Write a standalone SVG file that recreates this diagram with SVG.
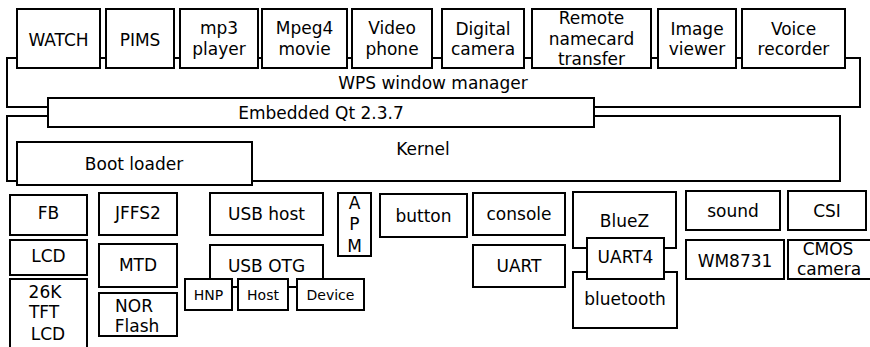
<svg xmlns="http://www.w3.org/2000/svg" width="870" height="347" viewBox="0 0 870 347">
<style>
rect{fill:#fff;stroke:#000;stroke-width:2}
.c line{stroke:#000;stroke-width:2}
text{font-family:"DejaVu Sans","Liberation Sans",sans-serif;font-size:17px;text-anchor:middle;fill:#000}
.s{font-size:14px}
</style>
<rect x="0" y="0" width="870" height="347" style="stroke:none"/>
<g id="wps"><rect x="7" y="58" width="853" height="49"/><text x="433" y="89">WPS window manager</text></g>
<g id="kernel"><rect x="7" y="116" width="833" height="65"/><text x="423" y="155">Kernel</text></g>
<g id="qt"><rect x="48" y="98" width="546" height="29"/><text x="321" y="119">Embedded Qt 2.3.7</text></g>
<g id="bootloader"><rect x="17" y="142" width="235" height="43"/><text x="134" y="170">Boot loader</text></g>
<g class="c" id="connectors">
<line x1="100" y1="58" x2="106" y2="58"/><line x1="174" y1="58" x2="180" y2="58"/><line x1="258" y1="58" x2="262" y2="58"/><line x1="347" y1="58" x2="352" y2="58"/><line x1="432" y1="58" x2="442" y2="58"/><line x1="524" y1="58" x2="532" y2="58"/><line x1="651" y1="58" x2="658" y2="58"/><line x1="736" y1="58" x2="742" y2="58"/>
<line x1="232" y1="287" x2="238" y2="287"/><line x1="288" y1="287" x2="297" y2="287"/>
</g>
<g id="watch"><rect x="17" y="9" width="83" height="59"/><text x="58.5" y="46">WATCH</text></g>
<g id="pims"><rect x="106" y="9" width="68" height="59"/><text x="140" y="46">PIMS</text></g>
<g id="mp3"><rect x="180" y="9" width="78" height="59"/><text x="219" y="34">mp3</text><text x="219" y="55">player</text></g>
<g id="mpeg4"><rect x="262" y="9" width="85" height="59"/><text x="304.5" y="34">Mpeg4</text><text x="304.5" y="55">movie</text></g>
<g id="video"><rect x="352" y="9" width="80" height="59"/><text x="392" y="34">Video</text><text x="392" y="55">phone</text></g>
<g id="camera"><rect x="442" y="9" width="82" height="59"/><text x="483" y="35">Digital</text><text x="483" y="55">camera</text></g>
<g id="namecard"><rect x="532" y="9" width="119" height="59"/><text x="591.5" y="24">Remote</text><text x="591.5" y="45">namecard</text><text x="591.5" y="65">transfer</text></g>
<g id="image"><rect x="658" y="9" width="78" height="59"/><text x="697" y="35">Image</text><text x="697" y="55">viewer</text></g>
<g id="voice"><rect x="742" y="9" width="103" height="59"/><text x="793.5" y="35">Voice</text><text x="793.5" y="55">recorder</text></g>
<g id="fb"><rect x="10" y="195" width="77" height="40"/><text x="48.5" y="219">FB</text></g>
<g id="lcd"><rect x="10" y="240" width="77" height="35"/><text x="48.5" y="262">LCD</text></g>
<g id="tft"><rect x="10" y="279" width="77" height="72"/><text x="45" y="298">26K</text><text x="44" y="318">TFT</text><text x="48" y="340">LCD</text></g>
<g id="jffs2"><rect x="99" y="193" width="78" height="42"/><text x="138" y="219">JFFS2</text></g>
<g id="mtd"><rect x="99" y="244" width="78" height="43"/><text x="138" y="271">MTD</text></g>
<g id="nor"><rect x="99" y="293" width="78" height="43"/><text x="134" y="312">NOR</text><text x="137" y="332">Flash</text></g>
<g id="usbhost"><rect x="210" y="193" width="113" height="42"/><text x="266.5" y="220">USB host</text></g>
<g id="usbotg"><rect x="210" y="245" width="113" height="42"/><text x="266.5" y="272">USB OTG</text></g>
<g id="hnp"><rect x="185" y="279" width="47" height="31"/><text class="s" x="208.5" y="300">HNP</text></g>
<g id="host"><rect x="238" y="279" width="50" height="31"/><text class="s" x="263" y="300">Host</text></g>
<g id="device"><rect x="297" y="279" width="67" height="31"/><text class="s" x="330.5" y="300">Device</text></g>
<g id="apm"><rect x="338" y="193" width="33" height="63"/><text x="354.5" y="209">A</text><text x="354.5" y="230">P</text><text x="354.5" y="252">M</text></g>
<g id="button"><rect x="380" y="194" width="87" height="43"/><text x="423.5" y="222">button</text></g>
<g id="console"><rect x="473" y="193" width="92" height="42"/><text x="519" y="220">console</text></g>
<g id="uart"><rect x="473" y="245" width="92" height="42"/><text x="519" y="272">UART</text></g>
<g id="bluez"><rect x="573" y="192" width="103" height="56"/><text x="624.5" y="227">BlueZ</text></g>
<g id="bluetooth"><rect x="573" y="272" width="104" height="56"/><text x="625" y="305">bluetooth</text></g>
<g id="uart4"><rect x="587" y="238" width="77" height="41"/><text x="625.5" y="263">UART4</text></g>
<g id="sound"><rect x="686" y="191" width="94" height="39"/><text x="733" y="217">sound</text></g>
<g id="csi"><rect x="788" y="191" width="78" height="39"/><text x="827" y="217">CSI</text></g>
<g id="wm8731"><rect x="686" y="240" width="98" height="39"/><text x="735" y="267">WM8731</text></g>
<g id="cmos"><rect x="788" y="240" width="86" height="39"/><text x="828" y="255">CMOS</text><text x="829" y="275">camera</text></g>
</svg>
